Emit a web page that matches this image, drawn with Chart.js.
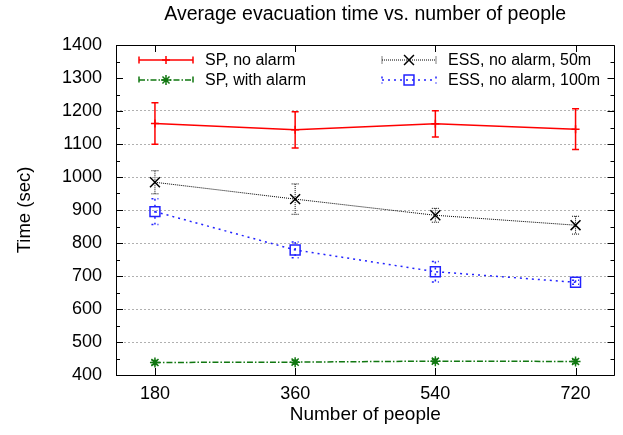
<!DOCTYPE html>
<html>
<head>
<meta charset="utf-8">
<script src="https://cdn.jsdelivr.net/npm/chart.js@4.4.1/dist/chart.umd.min.js"></script>
<style>
html,body{margin:0;padding:0;background:#fff;}
#wrap{width:623px;height:435px;}
</style>
</head>
<body>
<div id="wrap"><canvas id="c" width="623" height="435"></canvas></div>
<script>
const people = [180, 360, 540, 720];
const spNoAlarm = [1162, 1143, 1161, 1145];
const spNoAlarmErr = [63, 55, 40, 62];
const spAlarm = [438, 439, 442, 441];
const spAlarmErr = [6, 6, 6, 6];
const ess50 = [984, 933, 884, 854];
const ess50Err = [35, 46, 21, 27];
const ess100 = [895, 779, 713, 681];
const ess100Err = [39, 24, 31, 6];
const yTickLabels = ['400','500','600','700','800','900','1000','1100','1200','1300','1400'];
const seriesNames = ['SP, no alarm', 'SP, with alarm', 'ESS, no alarm, 50m', 'ESS, no alarm, 100m'];

const FONT = "'Liberation Sans', Arial, Helvetica, sans-serif";
const styles = [
  {color:'#ff0000', width:1.5, dash:[], pointStyle:'cross', radius:4, err:spNoAlarmErr},
  {color:'#117711', width:1.5, dash:[6,2,1.5,2], pointStyle:'star', radius:5, err:spAlarmErr},
  {color:'#000000', width:1, dash:[1,1], pointStyle:'crossRot', radius:7, err:ess50Err},
  {color:'#2222ff', width:1.5, dash:[2,4], pointStyle:'rect', radius:7, err:ess100Err}
];
const values = [spNoAlarm, spAlarm, ess50, ess100];

const datasets = values.map((arr, i) => ({
  label: seriesNames[i],
  data: people.map((p, j) => ({x: p, y: arr[j]})),
  borderColor: styles[i].color,
  backgroundColor: 'rgba(0,0,0,0)',
  borderWidth: styles[i].width,
  borderDash: styles[i].dash,
  pointStyle: styles[i].pointStyle,
  pointRadius: styles[i].radius,
  pointBorderColor: styles[i].color,
  pointBorderWidth: 1.5,
  pointBackgroundColor: 'rgba(0,0,0,0)',
  tension: 0,
  fill: false
}));

function drawErrBar(ctx, x, yTop, yBot, st) {
  ctx.save();
  ctx.strokeStyle = st.color;
  ctx.lineWidth = st.width;
  ctx.setLineDash(st.dash);
  ctx.beginPath();
  ctx.moveTo(x, yTop); ctx.lineTo(x, yBot);
  ctx.moveTo(x - 3.5, yTop); ctx.lineTo(x + 3.5, yTop);
  ctx.moveTo(x - 3.5, yBot); ctx.lineTo(x + 3.5, yBot);
  ctx.stroke();
  ctx.restore();
}

const decor = {
  id: 'decor',
  beforeDatasetsDraw(chart) {
    const ctx = chart.ctx, xs = chart.scales.x, ys = chart.scales.y;
    values.forEach((arr, i) => {
      const st = styles[i];
      arr.forEach((v, j) => {
        const x = xs.getPixelForValue(people[j]);
        drawErrBar(ctx, x, ys.getPixelForValue(v + st.err[j]), ys.getPixelForValue(v - st.err[j]), st);
      });
    });
  },
  afterDatasetsDraw(chart) {
    const ctx = chart.ctx, a = chart.chartArea, xs = chart.scales.x, ys = chart.scales.y;
    // legend (opaque key)
    ctx.save();
    ctx.fillStyle = '#fff';
    ctx.fillRect(a.left + 4, a.top + 4, a.right - a.left - 8, 44);
    const cols = [a.left + 23, a.left + 266];
    const rows = [a.top + 15, a.top + 35];
    const sampleLen = 54;
    styles.forEach((st, i) => {
      const x0 = cols[Math.floor(i / 2)], y0 = rows[i % 2];
      ctx.save();
      ctx.strokeStyle = st.color;
      ctx.fillStyle = 'rgba(0,0,0,0)';
      ctx.lineWidth = st.width;
      ctx.setLineDash(st.dash);
      ctx.beginPath();
      ctx.moveTo(x0, y0); ctx.lineTo(x0 + sampleLen, y0);
      ctx.moveTo(x0, y0 - 3.5); ctx.lineTo(x0, y0 + 3.5);
      ctx.moveTo(x0 + sampleLen, y0 - 3.5); ctx.lineTo(x0 + sampleLen, y0 + 3.5);
      ctx.stroke();
      ctx.setLineDash([]);
      ctx.lineWidth = 1.5;
      Chart.helpers.drawPoint(ctx, {pointStyle: st.pointStyle, radius: st.radius, rotation: 0, borderWidth: 1.5}, x0 + sampleLen / 2, y0);
      ctx.restore();
      ctx.fillStyle = '#000';
      ctx.font = '16px ' + FONT;
      ctx.textBaseline = 'middle';
      ctx.textAlign = 'left';
      ctx.fillText(seriesNames[i], x0 + 66, y0 + 1);
    });
    ctx.restore();
    // border + inward ticks
    ctx.save();
    ctx.strokeStyle = '#000';
    ctx.lineWidth = 1;
    ctx.setLineDash([]);
    ctx.beginPath();
    ctx.rect(Math.round(a.left) + 0.5, Math.round(a.top) + 0.5, Math.round(a.right - a.left) - 1, Math.round(a.bottom - a.top));
    ys.ticks.forEach(t => {
      const y = Math.round(ys.getPixelForValue(t.value)) + 0.5;
      ctx.moveTo(a.left, y); ctx.lineTo(a.left + 7, y);
      ctx.moveTo(a.right, y); ctx.lineTo(a.right - 7, y);
      const ym = Math.round(ys.getPixelForValue(t.value + 50)) + 0.5;
      if (t.value + 50 < ys.max) {
        ctx.moveTo(a.left, ym); ctx.lineTo(a.left + 4, ym);
        ctx.moveTo(a.right, ym); ctx.lineTo(a.right - 4, ym);
      }
    });
    xs.ticks.forEach(t => {
      const x = Math.round(xs.getPixelForValue(t.value)) + 0.5;
      ctx.moveTo(x, a.bottom); ctx.lineTo(x, a.bottom - 7);
      ctx.moveTo(x, a.top); ctx.lineTo(x, a.top + 7);
    });
    ctx.stroke();
    ctx.restore();
  }
};

new Chart(document.getElementById('c'), {
  type: 'line',
  data: { datasets },
  plugins: [decor],
  options: {
    responsive: false,
    animation: false,
    devicePixelRatio: 1,
    layout: { padding: { left: 0, right: 5, top: 0, bottom: 0 } },
    plugins: {
      legend: { display: false },
      tooltip: { enabled: false },
      title: {
        display: true,
        fullSize: false,
        text: 'Average evacuation time vs. number of people',
        color: '#000',
        font: { family: FONT, size: 19.5, weight: 'normal', lineHeight: 1.2 },
        padding: { top: 2.5, bottom: 19.1 }
      }
    },
    scales: {
      x: {
        type: 'linear',
        min: 130, max: 770,
        afterBuildTicks: (s) => { s.ticks = people.map(v => ({value: v})); },
        afterFit: (s) => { s.height = 60; },
        grid: { display: false, drawTicks: false },
        border: { display: false },
        ticks: { color: '#000', font: { family: FONT, size: 18 }, padding: 8, maxRotation: 0, autoSkip: false },
        title: { display: true, text: 'Number of people', color: '#000', font: { family: FONT, size: 19 }, padding: { top: 0, bottom: 9 } }
      },
      y: {
        type: 'linear',
        min: 400, max: 1400,
        afterBuildTicks: (s) => { s.ticks = yTickLabels.map(v => ({value: Number(v)})); },
        afterFit: (s) => { s.width = 116; },
        grid: { color: '#b0b0b0', lineWidth: 1, drawTicks: false },
        border: { display: false, dash: [2, 2] },
        ticks: { color: '#000', font: { family: FONT, size: 18 }, padding: 14, autoSkip: false,
                 callback: (v) => yTickLabels.find(l => Number(l) === v) },
        title: { display: true, text: 'Time (sec)', color: '#000', font: { family: FONT, size: 18.5 }, padding: { top: 14, bottom: 0 } }
      }
    }
  }
});
</script>
</body>
</html>
